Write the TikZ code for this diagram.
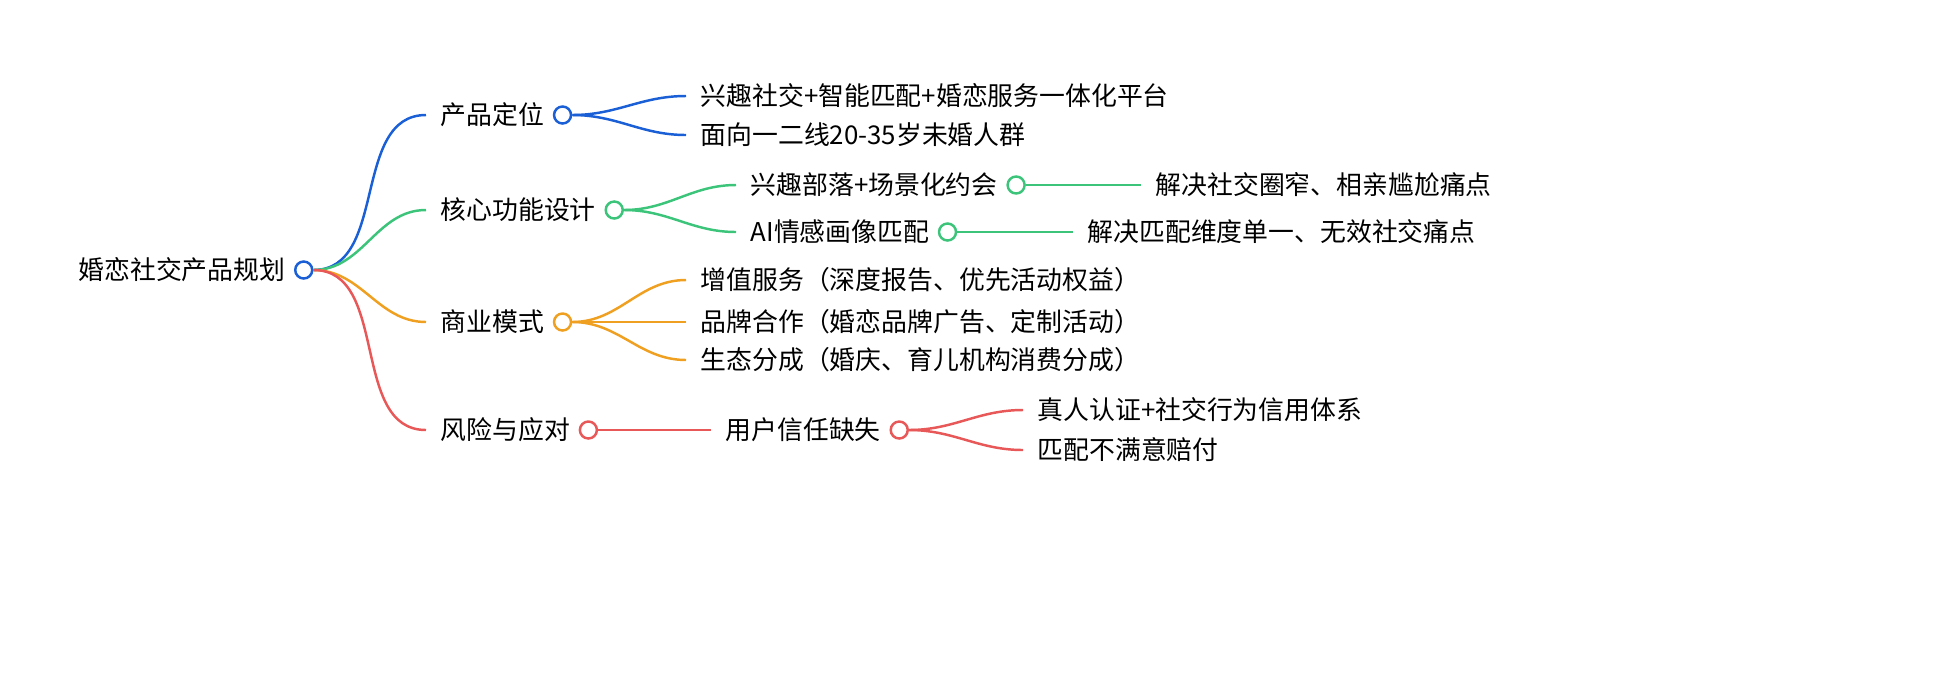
\documentclass[tikz,border=0pt]{standalone}
\usepackage{fontspec}
\setmainfont{Noto Sans CJK SC}
\usetikzlibrary{positioning}
\definecolor{mmblue}{HTML}{1A5FD6}
\definecolor{mmgreen}{HTML}{3CC47A}
\definecolor{mmorange}{HTML}{F0A020}
\definecolor{mmred}{HTML}{E85858}
\begin{document}
\begin{tikzpicture}[x=0.01cm,y=-0.01cm,font=\fontsize{7.35}{8}\selectfont]

	\tikzstyle{topic}=[anchor=west,inner xsep=0.14cm,inner ysep=0pt]
	\tikzstyle{knob}=[circle,fill=white,line width=0.7pt,minimum size=0.17cm,inner sep=0pt,right=-0.06cm of #1]
	\tikzstyle{link}=[line width=0.7pt,out=0,in=180]

	\useasboundingbox (0,0) rectangle (1945,672);

	% root
	\node[topic,anchor=east] (root) at (300,270) {婚恋社交产品规划};
	\node[knob=root,draw=mmblue] (kr) {};

	% main branches
	\node[topic] (b1) at (426,115) {产品定位};
	\node[topic] (b2) at (426,210) {核心功能设计};
	\node[topic] (b3) at (426,322) {商业模式};
	\node[topic] (b4) at (426,430) {风险与应对};
	\node[knob=b1,draw=mmblue] (k1) {};
	\node[knob=b2,draw=mmgreen] (k2) {};
	\node[knob=b3,draw=mmorange] (k3) {};
	\node[knob=b4,draw=mmred] (k4) {};
	\draw[link,mmblue] (kr.east) to (b1.west);
	\draw[link,mmgreen] (kr.east) to (b2.west);
	\draw[link,mmorange] (kr.east) to (b3.west);
	\draw[link,mmred] (kr.east) to (b4.west);

	% 产品定位
	\node[topic] (c11) at (686,96) {兴趣社交+智能匹配+婚恋服务一体化平台};
	\node[topic] (c12) at (686,135) {面向一二线20-35岁未婚人群};
	\foreach \c in {c11,c12} \draw[link,mmblue] (k1.east) to (\c.west);

	% 核心功能设计
	\node[topic] (c21) at (736,185) {兴趣部落+场景化约会};
	\node[topic] (c22) at (736,232) {AI情感画像匹配};
	\node[knob=c21,draw=mmgreen] (k21) {};
	\node[knob=c22,draw=mmgreen] (k22) {};
	\foreach \c in {c21,c22} \draw[link,mmgreen] (k2.east) to (\c.west);
	\node[topic] (d21) at (1141,185) {解决社交圈窄、相亲尴尬痛点};
	\node[topic] (d22) at (1073,232) {解决匹配维度单一、无效社交痛点};
	\draw[link,mmgreen] (k21.east) -- (d21.west);
	\draw[link,mmgreen] (k22.east) -- (d22.west);

	% 商业模式
	\node[topic] (c31) at (686,280) {增值服务（深度报告、优先活动权益）};
	\node[topic] (c32) at (686,322) {品牌合作（婚恋品牌广告、定制活动）};
	\node[topic] (c33) at (686,360) {生态分成（婚庆、育儿机构消费分成）};
	\foreach \c in {c31,c32,c33} \draw[link,mmorange] (k3.east) to (\c.west);

	% 风险与应对
	\node[topic] (c41) at (711,430) {用户信任缺失};
	\node[knob=c41,draw=mmred] (k41) {};
	\draw[link,mmred] (k4.east) -- (c41.west);
	\node[topic] (d41) at (1023,410) {真人认证+社交行为信用体系};
	\node[topic] (d42) at (1023,450) {匹配不满意赔付};
	\foreach \c in {d41,d42} \draw[link,mmred] (k41.east) to (\c.west);
\end{tikzpicture}
\end{document}
